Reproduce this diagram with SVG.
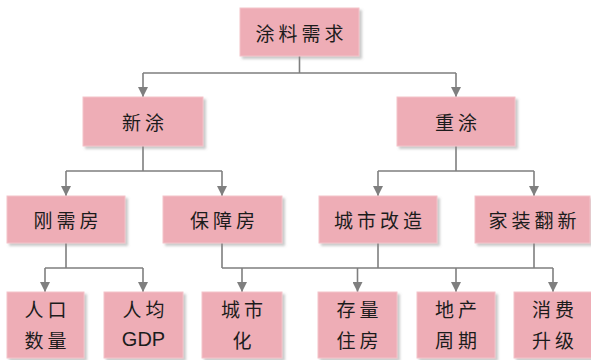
<svg xmlns="http://www.w3.org/2000/svg" width="591" height="360" viewBox="0 0 591 360">
<defs>
<filter id="sh" x="-10%" y="-10%" width="130%" height="130%">
<feDropShadow dx="2.5" dy="2.5" stdDeviation="1.2" flood-color="#8a8a8a" flood-opacity="0.45"/>
</filter>
<marker id="ah" markerUnits="userSpaceOnUse" markerWidth="10" markerHeight="10" viewBox="0 0 10 10" refX="10" refY="5" orient="auto">
<path d="M0,0 L10,5 L0,10 Z" fill="#7f7f7f"/>
</marker>
</defs>
<style>
.box{fill:#eeadb6;stroke:#f3c3ca;stroke-width:1;filter:url(#sh)}
.t{font-family:"Noto Sans CJK SC","Noto Sans CJK JP",sans-serif;font-size:19px;fill:#1c1c1c;text-anchor:middle;dominant-baseline:central;letter-spacing:4px}
.g{font-family:"Liberation Sans",Arial,sans-serif;font-size:20px;fill:#1c1c1c;text-anchor:middle;dominant-baseline:central}
.c{fill:none;stroke:#7f7f7f;stroke-width:1.6}
.a{fill:none;stroke:#7f7f7f;stroke-width:1.6;marker-end:url(#ah)}
</style>
<g id="connectors">
<path class="c" d="M299.5 56 V73 M143 73 H456"/>
<path class="a" d="M143 73 V97"/>
<path class="a" d="M456 73 V97"/>
<path class="c" d="M143 146 V171 M66 171 H222"/>
<path class="a" d="M66 171 V196"/>
<path class="a" d="M222 171 V196"/>
<path class="c" d="M456 146 V171 M378 171 H534"/>
<path class="a" d="M378 171 V196"/>
<path class="a" d="M534 171 V196"/>
<path class="c" d="M66 243 V268 M45 268 H143"/>
<path class="a" d="M45 268 V292"/>
<path class="a" d="M143 268 V292"/>
<path class="c" d="M222 243 V268 M378 243 V268 M534 243 V268 M222 268 H553"/>
<path class="a" d="M242 268 V292"/>
<path class="a" d="M357.5 268 V292"/>
<path class="a" d="M456 268 V292"/>
<path class="a" d="M553 268 V292"/>
</g>
<g id="n-root"><rect class="box" x="240" y="8" width="119" height="48"/><text class="t" x="301.5" y="32">涂料需求</text></g>
<g id="n-xintu"><rect class="box" x="83" y="97" width="120" height="49"/><text class="t" x="145" y="121.5">新涂</text></g>
<g id="n-zhongtu"><rect class="box" x="397" y="97" width="118" height="49"/><text class="t" x="458" y="121.5">重涂</text></g>
<g id="n-gangxu"><rect class="box" x="7" y="196" width="118" height="47"/><text class="t" x="68" y="219.5">刚需房</text></g>
<g id="n-baozhang"><rect class="box" x="163" y="196" width="119" height="47"/><text class="t" x="224.5" y="219.5">保障房</text></g>
<g id="n-chengshigaizao"><rect class="box" x="319" y="196" width="118" height="47"/><text class="t" x="380" y="219.5">城市改造</text></g>
<g id="n-jiazhuang"><rect class="box" x="475" y="196" width="115" height="47"/><text class="t" x="534.5" y="219.5">家装翻新</text></g>
<g id="n-renkou"><rect class="box" x="7" y="292" width="77" height="66"/><text class="t" x="47.5" y="308">人口</text><text class="t" x="47.5" y="339">数量</text></g>
<g id="n-renjun"><rect class="box" x="104" y="292" width="79" height="66"/><text class="t" x="145.5" y="308">人均</text><text class="g" x="143.5" y="339">GDP</text></g>
<g id="n-chengshihua"><rect class="box" x="202" y="292" width="80" height="66"/><text class="t" x="244" y="308">城市</text><text class="t" x="244" y="339">化</text></g>
<g id="n-cunliang"><rect class="box" x="318" y="292" width="79" height="66"/><text class="t" x="359.5" y="308">存量</text><text class="t" x="359.5" y="339">住房</text></g>
<g id="n-dichan"><rect class="box" x="417" y="292" width="78" height="66"/><text class="t" x="458" y="308">地产</text><text class="t" x="458" y="339">周期</text></g>
<g id="n-xiaofei"><rect class="box" x="514" y="292" width="78" height="66"/><text class="t" x="555" y="308">消费</text><text class="t" x="555" y="339">升级</text></g>
</svg>
